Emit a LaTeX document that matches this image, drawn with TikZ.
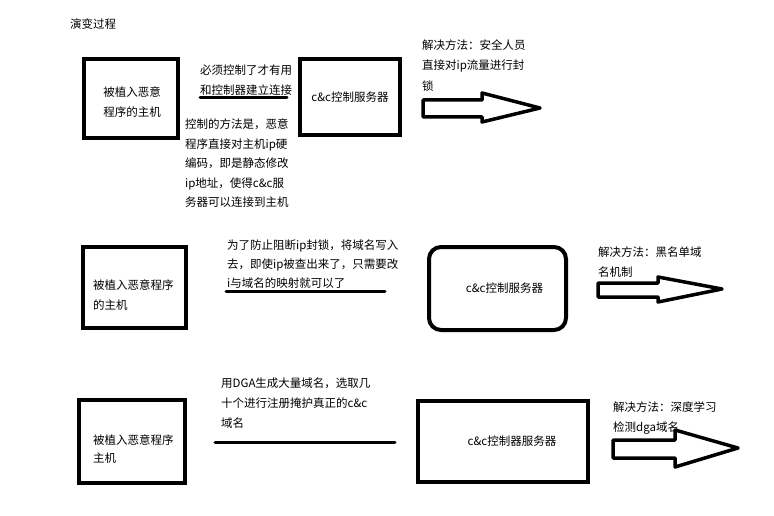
\documentclass[tikz,border=0pt]{standalone}
\usepackage{fontspec}
\setmainfont{Noto Sans CJK SC}
\usepackage{tikz}

\begin{document}
\begin{tikzpicture}[x=1pt, y=-1pt,
  box/.style={rectangle, draw=black, line width=4pt, align=left, inner sep=0pt, font=\fontsize{11.5}{20}\selectfont},
  note/.style={anchor=west, align=left, inner sep=0pt, font=\fontsize{11.5}{20}\selectfont},
  bar/.style={line width=3pt, line cap=round},
  fatarrow/.style={line width=3.5pt, line join=round}
]
  \useasboundingbox (0,0) rectangle (774,516);
  \node[note] (title) at (70,24) {演变过程};

  \node[box, minimum width=94, minimum height=79] (host1) at (131,98.5) {};
  \node[note, anchor=center, align=center] (host1text) at (132,102) {被植入恶意\\程序的主机};
  \node[box, minimum width=100, minimum height=76] (cc1) at (350,97) {c\&c控制服务器};
  \node[note] (need1) at (200,80) {必须控制了才有用\\和控制器建立连接};
  \draw[bar] (200,98) -- (287,98);
  \node[note, font=\fontsize{11.5}{19.5}\selectfont] (how1) at (185,163.5) {控制的方法是，恶意\\程序直接对主机ip硬\\编码，即是静态修改\\ip地址，使得c\&c服\\务器可以连接到主机};
  \node[note, font=\fontsize{11.5}{20.5}\selectfont] (fix1) at (422,65.5) {解决方法：安全人员\\直接对ip流量进行封\\锁};
  \draw[fatarrow] (423,100) -- (482,100) -- (482,93) -- (540,108) -- (482,122) -- (482,117) -- (423,117) -- cycle;

  \node[box, minimum width=103, minimum height=81] (host2) at (134.5,287.5) {};
  \node[note] (host2text) at (93,295) {被植入恶意程序\\的主机};
  \node[box, rounded corners=12pt, minimum width=137, minimum height=83] (cc2) at (497.5,288.5) {\hspace*{14pt}c\&c控制服务器};
  \node[note, font=\fontsize{11.5}{19}\selectfont] (how2) at (227,264) {为了防止阻断ip封锁，将域名写入\\去，即使ip被查出来了，只需要改\\i与域名的映射就可以了};
  \draw[bar] (226,291) -- (385,291);
  \node[note] (fix2) at (598,262) {解决方法：黑名单域\\名机制};
  \draw[fatarrow] (598,283) -- (658,283) -- (658,277) -- (722,289) -- (658,302) -- (658,297) -- (598,297) -- cycle;

  \node[box, minimum width=106, minimum height=83] (host3) at (132,441.5) {};
  \node[note, font=\fontsize{11.5}{18}\selectfont] (host3text) at (93,449) {被植入恶意程序\\主机};
  \node[box, minimum width=170, minimum height=81] (cc3) at (503,441.5) {\hspace*{18pt}c\&c控制器服务器};
  \node[note] (how3) at (221,403) {用DGA生成大量域名，选取几\\十个进行注册掩护真正的c\&c\\域名};
  \draw[bar] (215,442) -- (395,442);
  \node[note] (fix3) at (613,418.5) {解决方法：深度学习\\检测dga域名};
  \draw[fatarrow] (613,440) -- (675,440) -- (675,430) -- (738,448) -- (675,467) -- (675,458) -- (613,458) -- cycle;
\end{tikzpicture}
\end{document}
